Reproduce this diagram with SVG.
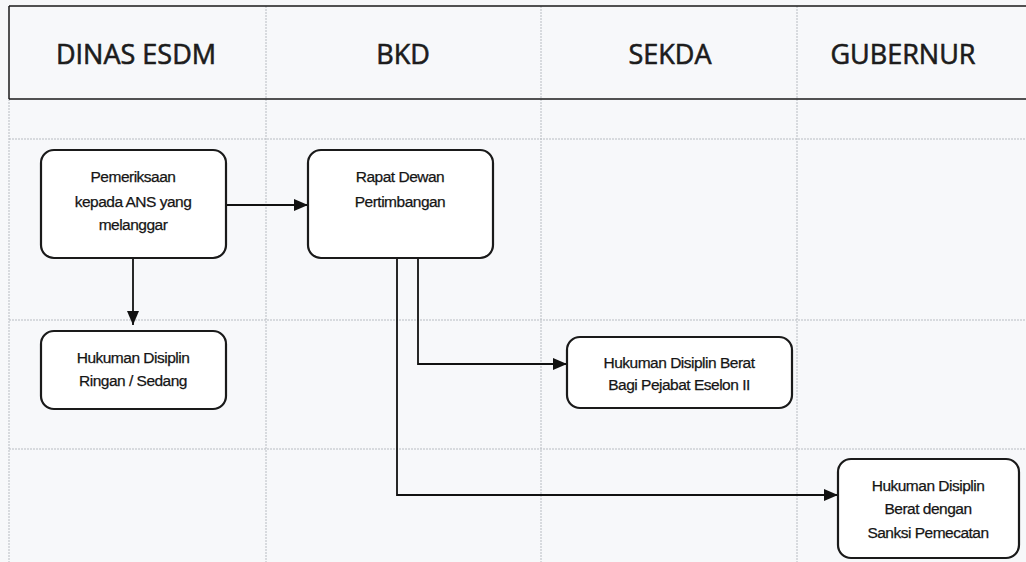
<svg xmlns="http://www.w3.org/2000/svg" width="1026" height="562" viewBox="0 0 1026 562">
<defs>
<marker id="ah" markerWidth="14" markerHeight="12" refX="14" refY="6" orient="auto" markerUnits="userSpaceOnUse">
<path d="M0,0 L14,6 L0,12 Z" fill="#111"/>
</marker>
<style>
.grid{stroke:#b8bcc2;stroke-width:1;stroke-dasharray:2 1;fill:none}
.hdr{font-family:"Open Sans",Lato,sans-serif;font-size:27px;fill:#1c1c1c;stroke:#1c1c1c;stroke-width:0.6;text-anchor:middle}
.box{fill:#fff;stroke:#1a1a1a;stroke-width:2.2}
.lbl{font-family:"Liberation Sans",Arial,sans-serif;font-size:15.5px;fill:#151515;stroke:#151515;stroke-width:0.25;text-anchor:middle;letter-spacing:-0.5px}
.con{stroke:#111;stroke-width:1.8;fill:none}
</style>
</defs>
<rect width="1026" height="562" fill="#f7f8fa"/>
<g id="grid">
<line class="grid" x1="266" y1="6" x2="266" y2="562"/>
<line class="grid" x1="541" y1="6" x2="541" y2="562"/>
<line class="grid" x1="797" y1="6" x2="797" y2="562"/>
<line class="grid" x1="9" y1="99" x2="9" y2="562"/>
<line class="grid" x1="9" y1="139" x2="1026" y2="139"/>
<line class="grid" x1="9" y1="320" x2="1026" y2="320"/>
<line class="grid" x1="9" y1="449" x2="1026" y2="449"/>
</g>
<g id="header">
<line x1="9" y1="6" x2="1026" y2="6" stroke="#1a1a1a" stroke-width="1.5"/>
<line x1="9" y1="99" x2="1026" y2="99" stroke="#1a1a1a" stroke-width="1.5"/>
<line x1="9" y1="6" x2="9" y2="99" stroke="#1a1a1a" stroke-width="1.5"/>
<text class="hdr" x="136" y="64">DINAS ESDM</text>
<text class="hdr" x="403" y="64">BKD</text>
<text class="hdr" x="670" y="64">SEKDA</text>
<text class="hdr" x="903" y="64">GUBERNUR</text>
</g>
<g id="connectors">
<line class="con" x1="226" y1="205" x2="308" y2="205" marker-end="url(#ah)"/>
<line class="con" x1="133" y1="258" x2="133" y2="325" marker-end="url(#ah)"/>
<polyline class="con" points="418,258 418,364 567,364" marker-end="url(#ah)"/>
<polyline class="con" points="397,258 397,495 838,495" marker-end="url(#ah)"/>
</g>
<g id="node-pemeriksaan">
<rect class="box" x="41" y="150" width="185" height="108" rx="13"/>
<text class="lbl" x="133" y="182">Pemeriksaan</text>
<text class="lbl" x="133" y="207">kepada ANS yang</text>
<text class="lbl" x="133" y="230">melanggar</text>
</g>
<g id="node-rapat">
<rect class="box" x="308" y="150" width="185" height="108" rx="13"/>
<text class="lbl" x="400" y="182">Rapat Dewan</text>
<text class="lbl" x="400" y="207">Pertimbangan</text>
</g>
<g id="node-ringan">
<rect class="box" x="41" y="331" width="185" height="78" rx="13"/>
<text class="lbl" x="133" y="363">Hukuman Disiplin</text>
<text class="lbl" x="133" y="386">Ringan / Sedang</text>
</g>
<g id="node-sekda">
<rect class="box" x="567" y="337" width="225" height="71" rx="13"/>
<text class="lbl" x="679" y="368">Hukuman Disiplin Berat</text>
<text class="lbl" x="679" y="390">Bagi Pejabat Eselon II</text>
</g>
<g id="node-gubernur">
<rect class="box" x="838" y="459" width="181" height="99" rx="13"/>
<text class="lbl" x="928" y="491">Hukuman Disiplin</text>
<text class="lbl" x="928" y="514">Berat dengan</text>
<text class="lbl" x="928" y="538">Sanksi Pemecatan</text>
</g>
</svg>
